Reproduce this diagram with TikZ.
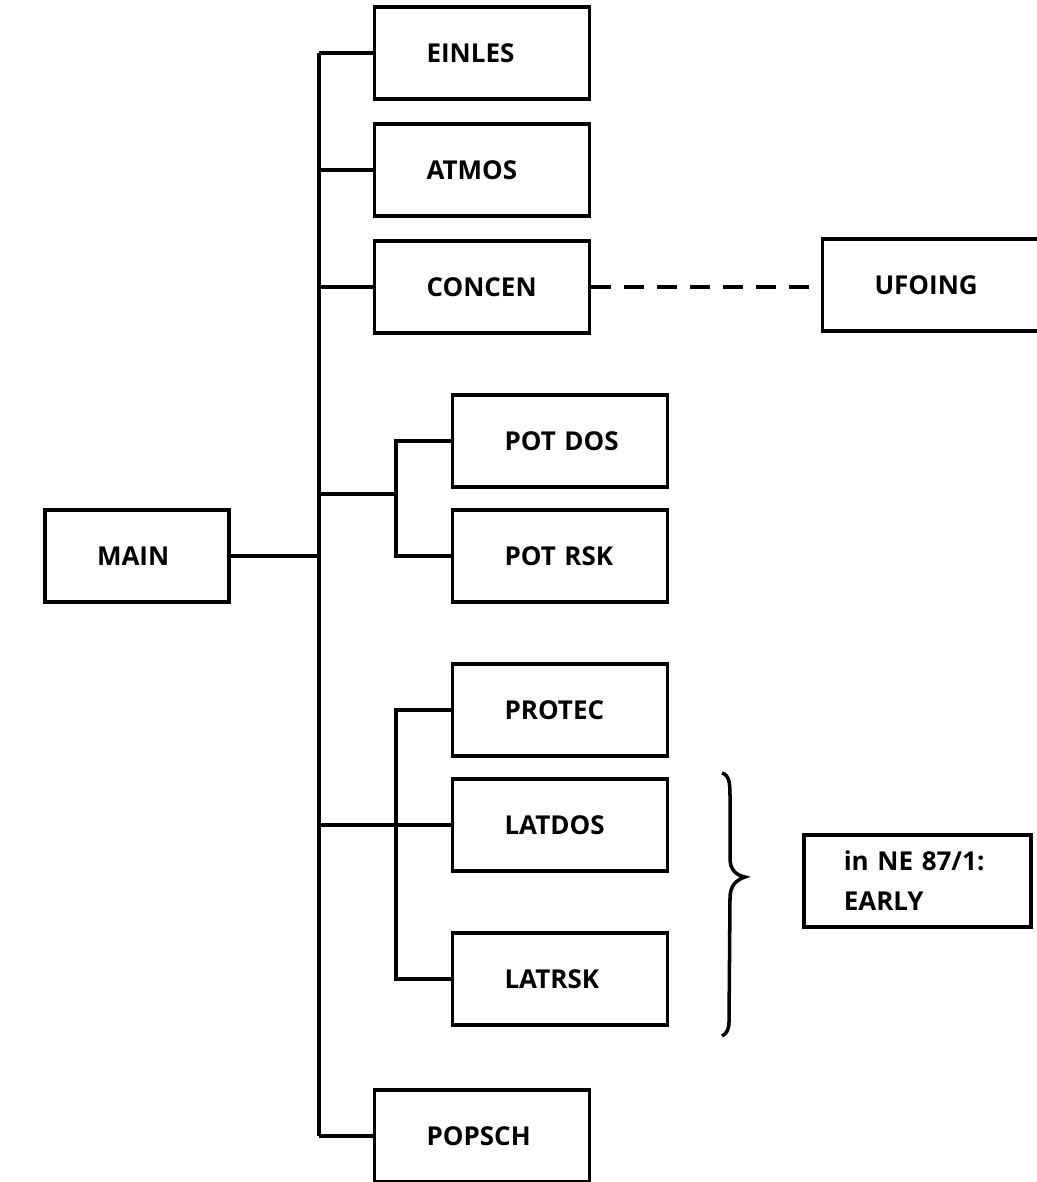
\documentclass[tikz,border=0pt]{standalone}
\usepackage{fontspec}
\setmainfont{Open Sans}
\usetikzlibrary{positioning}

\tikzset{
  modbox/.style={draw, line width=2pt, minimum height=1.84cm, text width=4.3cm,
                 inner xsep=0pt, inner ysep=0pt, align=left,
                 execute at begin node={\hspace*{1.04cm}},
                 font=\bfseries\fontsize{14.8}{18}\selectfont},
  link/.style={line width=2pt},
}

\begin{document}
\begin{tikzpicture}[x=0.02cm, y=-0.02cm]
    \useasboundingbox (0,0) rectangle (1036,1182);

    % Main program
    \node[modbox, text width=3.68cm] (main) at (137,556) {MAIN};

    % First level routines
    \node[modbox] (einles) at (482,53) {EINLES};
    \node[modbox] (atmos)  at (482,170) {ATMOS};
    \node[modbox] (concen) at (482,287) {CONCEN};
    \node[modbox] (popsch) at (482,1136) {POPSCH};

    % Second level routines
    \node[modbox] (potdos) at (560,441) {POT DOS};
    \node[modbox] (potrsk) at (560,556) {POT RSK};
    \node[modbox] (protec) at (560,710) {PROTEC};
    \node[modbox] (latdos) at (560,825) {LATDOS};
    \node[modbox] (latrsk) at (560,979) {LATRSK};

    % External routine
    \node[modbox, text width=4.5cm] (ufoing) at (935,285) {UFOING};

    % Trunk lines
    \coordinate (tk) at (319,0);
    \coordinate (sub) at (396,0);
    \draw[link] (einles.west -| tk) -- (popsch.west -| tk);
    \draw[link] (main.east) -- (main.east -| tk);
    \foreach \n in {einles, atmos, concen, popsch}
        \draw[link] (\n.west -| tk) -- (\n.west);

    % POT group
    \coordinate (potj) at (319,494);
    \draw[link] (potj) -- (potj -| sub);
    \draw[link] (potdos.west) -- (potdos.west -| sub) -- (potrsk.west -| sub) -- (potrsk.west);

    % LAT group
    \draw[link] (latdos.west -| tk) -- (latdos.west);
    \draw[link] (protec.west) -- (protec.west -| sub) -- (latrsk.west -| sub) -- (latrsk.west);

    % Dashed call
    \draw[link, dash pattern=on 0.4cm off 0.26cm] (concen.east) -- (concen.east -| ufoing.west);

    % Brace and note
    \draw[line width=2pt] (722,773) .. controls (729,775) and (730,782) .. (730,796)
        -- (730,858) .. controls (730,870) and (736,875) .. (745,877)
        .. controls (736,880) and (730,886) .. (730,898)
        -- (729,1022) .. controls (729,1030) and (726,1034) .. (722,1036);
    \node[draw, line width=2pt, minimum height=1.84cm, text width=2.95cm,
          inner xsep=0.8cm, align=left, anchor=west,
          font=\bfseries\fontsize{14.8}{22.8}\selectfont] (note) at (802,881)
          {in NE 87/1:\\EARLY};
\end{tikzpicture}
\end{document}
